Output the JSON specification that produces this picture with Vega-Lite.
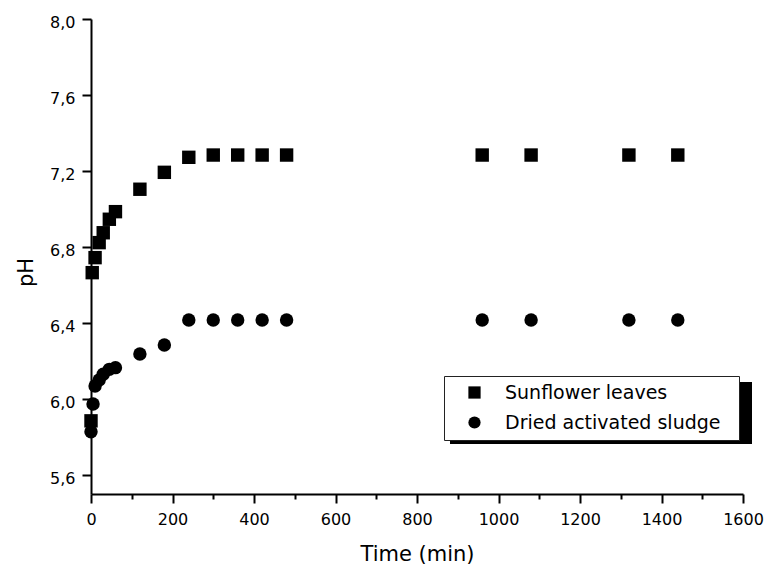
{
  "$schema": "https://vega.github.io/schema/vega-lite/v6.json",
  "width": 652,
  "height": 475,
  "autosize": "none",
  "padding": {"left": 91, "top": 19, "right": 24, "bottom": 74},
  "background": "white",
  "config": {"view": {"stroke": null}, "font": "DejaVu Sans"},
  "data": {"values": [
    {"t": 0, "pH": 5.885, "series": "Sunflower leaves"},
    {"t": 3, "pH": 6.665, "series": "Sunflower leaves"},
    {"t": 10, "pH": 6.744, "series": "Sunflower leaves"},
    {"t": 20, "pH": 6.823, "series": "Sunflower leaves"},
    {"t": 30, "pH": 6.875, "series": "Sunflower leaves"},
    {"t": 45, "pH": 6.946, "series": "Sunflower leaves"},
    {"t": 60, "pH": 6.986, "series": "Sunflower leaves"},
    {"t": 120, "pH": 7.104, "series": "Sunflower leaves"},
    {"t": 180, "pH": 7.193, "series": "Sunflower leaves"},
    {"t": 240, "pH": 7.272, "series": "Sunflower leaves"},
    {"t": 300, "pH": 7.284, "series": "Sunflower leaves"},
    {"t": 360, "pH": 7.284, "series": "Sunflower leaves"},
    {"t": 420, "pH": 7.284, "series": "Sunflower leaves"},
    {"t": 480, "pH": 7.284, "series": "Sunflower leaves"},
    {"t": 960, "pH": 7.284, "series": "Sunflower leaves"},
    {"t": 1080, "pH": 7.284, "series": "Sunflower leaves"},
    {"t": 1320, "pH": 7.284, "series": "Sunflower leaves"},
    {"t": 1440, "pH": 7.284, "series": "Sunflower leaves"},
    {"t": 0, "pH": 5.828, "series": "Dried activated sludge"},
    {"t": 5, "pH": 5.974, "series": "Dried activated sludge"},
    {"t": 10, "pH": 6.068, "series": "Dried activated sludge"},
    {"t": 20, "pH": 6.10, "series": "Dried activated sludge"},
    {"t": 30, "pH": 6.13, "series": "Dried activated sludge"},
    {"t": 45, "pH": 6.156, "series": "Dried activated sludge"},
    {"t": 60, "pH": 6.165, "series": "Dried activated sludge"},
    {"t": 120, "pH": 6.237, "series": "Dried activated sludge"},
    {"t": 180, "pH": 6.284, "series": "Dried activated sludge"},
    {"t": 240, "pH": 6.416, "series": "Dried activated sludge"},
    {"t": 300, "pH": 6.416, "series": "Dried activated sludge"},
    {"t": 360, "pH": 6.416, "series": "Dried activated sludge"},
    {"t": 420, "pH": 6.416, "series": "Dried activated sludge"},
    {"t": 480, "pH": 6.416, "series": "Dried activated sludge"},
    {"t": 960, "pH": 6.416, "series": "Dried activated sludge"},
    {"t": 1080, "pH": 6.416, "series": "Dried activated sludge"},
    {"t": 1320, "pH": 6.416, "series": "Dried activated sludge"},
    {"t": 1440, "pH": 6.416, "series": "Dried activated sludge"}
  ]},
  "layer": [
    {
      "mark": {"type": "rect", "color": "black", "clip": false},
      "encoding": {
        "x": {"datum": 883, "type": "quantitative"},
        "x2": {"datum": 1622},
        "y": {"datum": 6.09, "type": "quantitative"},
        "y2": {"datum": 5.763}
      }
    },
    {
      "mark": {"type": "point", "filled": true, "opacity": 1, "color": "black", "strokeWidth": 0, "size": 180},
      "encoding": {
        "x": {
          "field": "t", "type": "quantitative",
          "scale": {"domain": [0, 1600], "nice": false, "zero": false},
          "axis": {
            "title": "Time (min)",
            "values": [0, 100, 200, 300, 400, 500, 600, 700, 800, 900, 1000, 1100, 1200, 1300, 1400, 1500, 1600],
            "labelExpr": "datum.value % 200 === 0 ? format(datum.value, 'd') : ''",
            "labelOverlap": false, "labelFlush": false,
            "grid": false,
            "domainColor": "black", "domainWidth": 2,
            "tickColor": "black", "tickWidth": 2,
            "tickSize": {"condition": {"test": "datum.value % 200 === 0", "value": 9}, "value": 5},
            "labelFont": "DejaVu Sans", "labelFontSize": 16, "labelColor": "black", "labelPadding": 8,
            "titleFont": "DejaVu Sans", "titleFontSize": 21, "titleFontWeight": "normal", "titleColor": "black",
            "titleBaseline": "alphabetic", "titleY": 66
          }
        },
        "y": {
          "field": "pH", "type": "quantitative",
          "scale": {"domain": [5.5, 8.0], "nice": false, "zero": false},
          "axis": {
            "title": "pH",
            "values": [5.6, 5.8, 6.0, 6.2, 6.4, 6.6, 6.8, 7.0, 7.2, 7.4, 7.6, 7.8, 8.0],
            "labelExpr": "round(datum.value * 10) % 4 === 0 ? replace(format(datum.value, '.1f'), '.', ',') : ''",
            "labelOverlap": false, "labelFlush": false,
            "grid": false,
            "domainColor": "black", "domainWidth": 2,
            "tickColor": "black", "tickWidth": 2,
            "tickSize": {"condition": {"test": "round(datum.value * 10) % 4 === 0", "value": 9}, "value": 5},
            "labelFont": "DejaVu Sans", "labelFontSize": 16, "labelColor": "black", "labelPadding": 7, "labelOffset": 3,
            "titleFont": "DejaVu Sans", "titleFontSize": 21, "titleFontWeight": "normal", "titleColor": "black",
            "titleAngle": 270, "titleBaseline": "alphabetic", "titleAlign": "center", "titleX": -59, "titleY": 253
          }
        },
        "shape": {
          "field": "series", "type": "nominal",
          "scale": {"domain": ["Sunflower leaves", "Dried activated sludge"], "range": ["square", "circle"]},
          "legend": {
            "title": " ", "titleFontSize": 2, "titlePadding": 12, "titleOrient": "right",
            "orient": "none", "legendX": 353, "legendY": 357,
            "fillColor": "white", "strokeColor": "#222",
            "padding": 7, "rowPadding": 10,
            "symbolSize": 150, "symbolFillColor": "black", "symbolStrokeWidth": 0, "symbolOffset": 14,
            "labelOffset": 21, "labelLimit": 0,
            "labelFont": "DejaVu Sans", "labelFontSize": 19, "labelColor": "black",
            "encode": {
              "legend": {"update": {"strokeWidth": {"value": 1.5}}}
            }
          }
        }
      }
    }
  ]
}
